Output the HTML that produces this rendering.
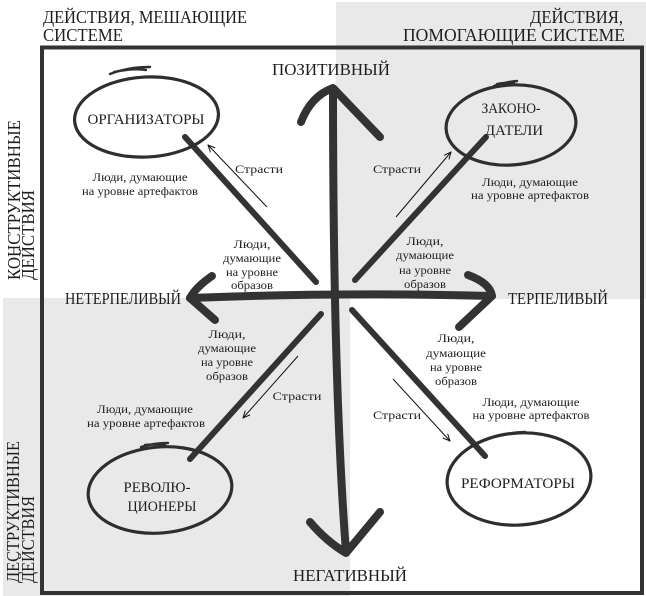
<!DOCTYPE html>
<html><head><meta charset="utf-8"><style>
html,body{margin:0;padding:0;background:#fff;}
svg{display:block;}
text{font-family:"Liberation Serif","DejaVu Serif",serif;fill:#1e1e1e;}
.s{font-size:12px;}
.e{font-size:15px;}
.a{font-size:17px;}
.h{font-size:18px;}
.ax{fill:none;stroke:#333;stroke-width:8;stroke-linecap:round;stroke-linejoin:round;}
.dg{fill:none;stroke:#333;stroke-width:6;stroke-linecap:round;}
.el{fill:none;stroke:#2e2e2e;stroke-width:3.2;}
.sc{fill:none;stroke:#2e2e2e;stroke-width:2.4;stroke-linecap:round;}
.th{fill:none;stroke:#111;stroke-width:1;}
</style></head><body>
<svg width="646" height="596" viewBox="0 0 646 596" xmlns="http://www.w3.org/2000/svg">
<defs>
<marker id="ah" viewBox="0 0 8 8" refX="7.5" refY="4" markerWidth="8" markerHeight="8" markerUnits="userSpaceOnUse" orient="auto">
<path d="M0.5,0.8 L7.5,4 L0.5,7.2" fill="none" stroke="#111" stroke-width="1"/>
</marker>
</defs>
<rect x="0" y="0" width="646" height="596" fill="#fff"/>
<rect x="336" y="2" width="310" height="297" fill="#e9e9e9"/>
<rect x="3" y="298" width="347" height="298" fill="#e9e9e9"/>
<rect x="42" y="47.5" width="600" height="545.5" fill="none" stroke="#333" stroke-width="4"/>

<!-- headers -->
<text class="h" x="43" y="23" textLength="204" lengthAdjust="spacingAndGlyphs">ДЕЙСТВИЯ, МЕШАЮЩИЕ</text>
<text class="h" x="43" y="41" textLength="80" lengthAdjust="spacingAndGlyphs">СИСТЕМЕ</text>
<text class="h" x="530" y="23" textLength="93" lengthAdjust="spacingAndGlyphs">ДЕЙСТВИЯ,</text>
<text class="h" x="403" y="41" textLength="222" lengthAdjust="spacingAndGlyphs">ПОМОГАЮЩИЕ СИСТЕМЕ</text>

<text class="h" transform="translate(20,280) rotate(-90)" x="0" y="0" textLength="160" lengthAdjust="spacingAndGlyphs">КОНСТРУКТИВНЫЕ</text>
<text class="h" transform="translate(34,280) rotate(-90)" x="0" y="0" textLength="90" lengthAdjust="spacingAndGlyphs">ДЕЙСТВИЯ</text>
<text class="h" transform="translate(19,583) rotate(-90)" x="0" y="0" textLength="142" lengthAdjust="spacingAndGlyphs">ДЕСТРУКТИВНЫЕ</text>
<text class="h" transform="translate(34,583) rotate(-90)" x="0" y="0" textLength="87" lengthAdjust="spacingAndGlyphs">ДЕЙСТВИЯ</text>

<!-- axis labels -->
<text class="a" x="272" y="75" textLength="118" lengthAdjust="spacingAndGlyphs">ПОЗИТИВНЫЙ</text>
<text class="a" x="293" y="581" textLength="114" lengthAdjust="spacingAndGlyphs">НЕГАТИВНЫЙ</text>
<text class="a" x="65" y="304" textLength="116" lengthAdjust="spacingAndGlyphs">НЕТЕРПЕЛИВЫЙ</text>
<text class="a" x="508" y="304" textLength="100" lengthAdjust="spacingAndGlyphs">ТЕРПЕЛИВЫЙ</text>

<!-- diagonals -->
<path class="dg" d="M185,137 L316,282"/>
<path class="dg" d="M486,137 L355,280"/>
<path class="dg" d="M321,314 L190,459"/>
<path class="dg" d="M352,310 L485,456"/>

<!-- axes -->
<path class="ax" d="M333,89 Q333,380 346,552"/>
<path class="ax" d="M301,122 Q311,96 333,88 L380,137"/>
<path class="ax" d="M310,522 Q326,541 346,553 L380,512"/>
<path class="ax" d="M190,298 Q335,292 492,296"/>
<path class="ax" d="M212,276 Q196,287 190,298 L215,320"/>
<path class="ax" d="M468,275 Q490,283 492,296 L459,327"/>

<!-- ellipses -->
<ellipse class="el" cx="146.5" cy="117" rx="72" ry="40" transform="rotate(-3 146.5 117)"/>
<path class="sc" d="M110,74 Q128,67 150,67 M114,72 Q132,68 146,70"/>
<ellipse class="el" cx="511" cy="125" rx="65" ry="40" transform="rotate(-4 511 125)"/>
<path class="sc" d="M494,86 Q505,82 517,81 M497,84 Q507,82 514,83"/>
<ellipse class="el" cx="160" cy="490" rx="72" ry="43" transform="rotate(-5 160 490)"/>
<path class="sc" d="M141,447 Q154,443 168,443 M145,445 Q156,444 165,445"/>
<ellipse class="el" cx="519" cy="479" rx="72" ry="46" transform="rotate(-4 519 479)"/>
<path class="sc" d="M503,435 Q514,432 525,432 M507,434 Q515,433 521,433"/>

<!-- ellipse labels -->
<text class="e" x="146" y="124" text-anchor="middle" textLength="117" lengthAdjust="spacingAndGlyphs">ОРГАНИЗАТОРЫ</text>
<text class="e" x="511" y="113" text-anchor="middle" textLength="59" lengthAdjust="spacingAndGlyphs">ЗАКОНО-</text>
<text class="e" x="514" y="135" text-anchor="middle" textLength="58" lengthAdjust="spacingAndGlyphs">ДАТЕЛИ</text>
<text class="e" x="157" y="492" text-anchor="middle" textLength="67" lengthAdjust="spacingAndGlyphs">РЕВОЛЮ-</text>
<text class="e" x="162" y="511" text-anchor="middle" textLength="69" lengthAdjust="spacingAndGlyphs">ЦИОНЕРЫ</text>
<text class="e" x="518" y="488" text-anchor="middle" textLength="114" lengthAdjust="spacingAndGlyphs">РЕФОРМАТОРЫ</text>

<!-- thin arrows -->
<line class="th" x1="267" y1="207" x2="208" y2="145" marker-end="url(#ah)"/>
<line class="th" x1="396" y1="217" x2="451" y2="152" marker-end="url(#ah)"/>
<line class="th" x1="298" y1="356" x2="243" y2="418" marker-end="url(#ah)"/>
<line class="th" x1="393" y1="379" x2="450" y2="441" marker-end="url(#ah)"/>

<!-- small texts TL -->
<text class="s" x="259" y="173" text-anchor="middle" textLength="48" lengthAdjust="spacingAndGlyphs">Страсти</text>
<text class="s" x="140" y="181" text-anchor="middle" textLength="95" lengthAdjust="spacingAndGlyphs">Люди, думающие</text>
<text class="s" x="140" y="195" text-anchor="middle" textLength="116" lengthAdjust="spacingAndGlyphs">на уровне артефактов</text>
<text class="s" x="252" y="248" text-anchor="middle" textLength="37" lengthAdjust="spacingAndGlyphs">Люди,</text>
<text class="s" x="252" y="262" text-anchor="middle" textLength="58" lengthAdjust="spacingAndGlyphs">думающие</text>
<text class="s" x="252" y="276" text-anchor="middle" textLength="52" lengthAdjust="spacingAndGlyphs">на уровне</text>
<text class="s" x="252" y="289" text-anchor="middle" textLength="42" lengthAdjust="spacingAndGlyphs">образов</text>

<!-- TR -->
<text class="s" x="397" y="173" text-anchor="middle" textLength="48" lengthAdjust="spacingAndGlyphs">Страсти</text>
<text class="s" x="530" y="186" text-anchor="middle" textLength="96" lengthAdjust="spacingAndGlyphs">Люди, думающие</text>
<text class="s" x="530" y="199" text-anchor="middle" textLength="118" lengthAdjust="spacingAndGlyphs">на уровне артефактов</text>
<text class="s" x="425" y="245" text-anchor="middle" textLength="37" lengthAdjust="spacingAndGlyphs">Люди,</text>
<text class="s" x="425" y="259" text-anchor="middle" textLength="58" lengthAdjust="spacingAndGlyphs">думающие</text>
<text class="s" x="425" y="274" text-anchor="middle" textLength="52" lengthAdjust="spacingAndGlyphs">на уровне</text>
<text class="s" x="425" y="288" text-anchor="middle" textLength="42" lengthAdjust="spacingAndGlyphs">образов</text>

<!-- BL -->
<text class="s" x="227" y="338" text-anchor="middle" textLength="37" lengthAdjust="spacingAndGlyphs">Люди,</text>
<text class="s" x="227" y="352" text-anchor="middle" textLength="58" lengthAdjust="spacingAndGlyphs">думающие</text>
<text class="s" x="227" y="366" text-anchor="middle" textLength="52" lengthAdjust="spacingAndGlyphs">на уровне</text>
<text class="s" x="227" y="380" text-anchor="middle" textLength="42" lengthAdjust="spacingAndGlyphs">образов</text>
<text class="s" x="297" y="400" text-anchor="middle" textLength="49" lengthAdjust="spacingAndGlyphs">Страсти</text>
<text class="s" x="145" y="413" text-anchor="middle" textLength="96" lengthAdjust="spacingAndGlyphs">Люди, думающие</text>
<text class="s" x="146" y="427" text-anchor="middle" textLength="118" lengthAdjust="spacingAndGlyphs">на уровне артефактов</text>

<!-- BR -->
<text class="s" x="456" y="342" text-anchor="middle" textLength="37" lengthAdjust="spacingAndGlyphs">Люди,</text>
<text class="s" x="456" y="357" text-anchor="middle" textLength="60" lengthAdjust="spacingAndGlyphs">думающие</text>
<text class="s" x="456" y="371" text-anchor="middle" textLength="52" lengthAdjust="spacingAndGlyphs">на уровне</text>
<text class="s" x="456" y="385" text-anchor="middle" textLength="42" lengthAdjust="spacingAndGlyphs">образов</text>
<text class="s" x="397" y="419" text-anchor="middle" textLength="48" lengthAdjust="spacingAndGlyphs">Страсти</text>
<text class="s" x="531" y="406" text-anchor="middle" textLength="97" lengthAdjust="spacingAndGlyphs">Люди, думающие</text>
<text class="s" x="531" y="419" text-anchor="middle" textLength="117" lengthAdjust="spacingAndGlyphs">на уровне артефактов</text>
</svg>
</body></html>
